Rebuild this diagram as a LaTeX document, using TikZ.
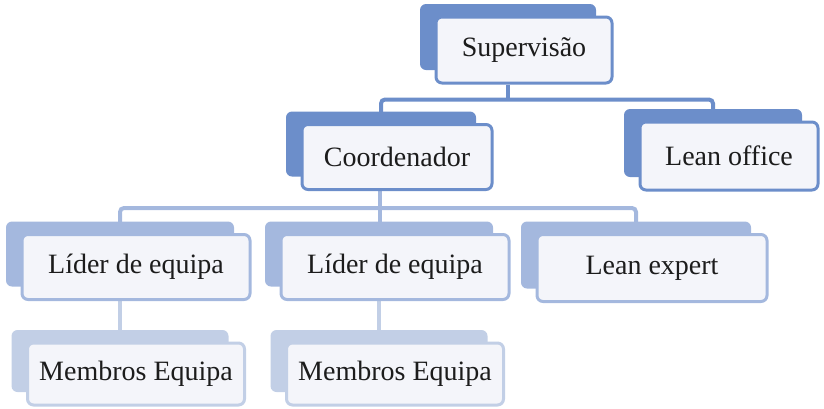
\documentclass[tikz,border=0pt]{standalone}
\usepackage{fontspec}
\setmainfont{Liberation Serif}
\usetikzlibrary{shadows, backgrounds}
\definecolor{deepblue}{RGB}{108,142,202}
\definecolor{midblue}{RGB}{164,184,222}
\definecolor{paleblue}{RGB}{194,207,230}
\definecolor{cardwhite}{RGB}{244,245,250}
\definecolor{inkgrey}{RGB}{28,28,28}

\begin{document}
\begin{tikzpicture}[x=0.5pt, y=-0.5pt,
    card/.style={draw=#1, fill=cardwhite, line width=1.5pt, rounded corners=3pt,
        text=inkgrey, font=\fontsize{14}{16}\selectfont, inner sep=0pt,
        copy shadow={shadow xshift=-8pt, shadow yshift=6.5pt, opacity=1,
            fill=#1, draw=none}},
    link/.style={draw=#1, line width=2pt, rounded corners=2pt}]
    \useasboundingbox (0,0) rectangle (824,408);

    % Top of the chart
    \node[card=deepblue, minimum width=88pt, minimum height=33pt] (sup) at (524,50) {Supervisão};
    \node[card=deepblue, minimum width=95pt, minimum height=32.5pt] (coord) at (397,157) {Coordenador};
    \node[card=deepblue, minimum width=89pt, minimum height=34pt] (office) at (729,156) {Lean office};

    % Teams (leader + members)
    \foreach \i/\x in {1/136, 2/395} {
        \node[card=midblue, minimum width=114pt, minimum height=32.5pt] (lider\i) at (\x,267) {Líder de equipa};
        \node[card=paleblue, minimum width=108.5pt, minimum height=31pt] (membros\i) at (\x,374) {Membros Equipa};
    }
    \node[card=midblue, minimum width=115pt, minimum height=33.5pt] (expert) at (652,268) {Lean expert};

    % Connectors behind the cards
    \begin{scope}[on background layer]
        \coordinate (supjoin) at ([xshift=-8pt, yshift=-7.5pt]sup.south);
        \draw[link=deepblue] ([xshift=-8pt]sup.south) -- (supjoin);
        \draw[link=deepblue] ([xshift=-8pt]coord.north) |- (supjoin) -| ([xshift=-8pt]office.north);

        \coordinate (coordjoin) at ([xshift=-8.5pt, yshift=-8.5pt]coord.south);
        \draw[link=midblue] ([xshift=-8.5pt]coord.south) -- (coordjoin);
        \draw[link=midblue] ([xshift=-8pt]lider1.north) |- (coordjoin) -| ([xshift=-8pt]expert.north);
        \draw[link=midblue] (coordjoin) -- (coordjoin |- lider2.north);

        \foreach \i in {1,2}
            \draw[link=paleblue] ([xshift=-8pt]lider\i.south) -- ([xshift=-8pt]membros\i.north);
    \end{scope}
\end{tikzpicture}
\end{document}
